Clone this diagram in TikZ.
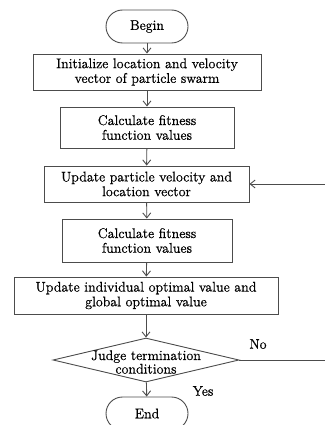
\documentclass[tikz,border=0pt]{standalone}
\usepackage{fontspec}
\setmainfont{Latin Modern Roman}[FakeBold=0.7]
\usepackage{tikz}
\usetikzlibrary{shapes.geometric,arrows.meta}

\tikzset{
  box/.style={draw=black!70, line width=0.9pt, align=center, inner sep=2pt,
    font=\fontsize{14}{14.7}\selectfont},
  term/.style={box, rounded corners=16.5pt, minimum width=82pt, minimum height=33pt},
  judge/.style={draw=black!70, line width=0.9pt, diamond, inner sep=0pt,
    minimum width=186pt, minimum height=44pt},
  flow/.style={-{Straight Barb[length=5pt,width=8pt]}, draw=black!70, line width=0.9pt}
}

\begin{document}
\begin{tikzpicture}[x=1pt,y=-1pt]
\useasboundingbox (0,0) rectangle (324,425);
\node[term] (begin) at (147,26.5) {Begin};
\node[box, minimum width=228pt, minimum height=36pt] (init) at (147,72) {Initialize location and velocity\\vector of particle swarm};
\node[box, minimum width=174pt, minimum height=41pt] (calcA) at (147,127.5) {Calculate fitness\\function values};
\node[box, minimum width=205pt, minimum height=36pt] (update) at (146.5,184) {Update particle velocity and\\location vector};
\node[box, minimum width=170pt, minimum height=43pt] (calcB) at (147,240.5) {Calculate fitness\\function values};
\node[box, minimum width=264pt, minimum height=37pt] (best) at (146,295.5) {Update individual optimal value and\\global optimal value};
\node[judge, label={[font=\fontsize{14}{12.5}\selectfont, align=center, yshift=-2pt]center:Judge termination\\conditions}] (stop) at (146,360) {};
\node[term] (end) at (147,413.5) {End};
\node[font=\fontsize{14}{14}\selectfont] (no) at (258,344) {No};
\node[font=\fontsize{14}{14}\selectfont] (yes) at (203,391) {Yes};
\coordinate (turn) at (327,360);

\draw[flow] (begin) -- (init);
\draw[flow] (init) -- (calcA);
\draw[flow] (calcA) -- (update);
\draw[flow] (update) -- (calcB);
\draw[flow] (calcB) -- (best);
\draw[flow] (best) -- (stop);
\draw[flow] (stop) -- (end);
\draw[flow] (stop.east) -- (turn) |- (update.east);
\end{tikzpicture}
\end{document}
